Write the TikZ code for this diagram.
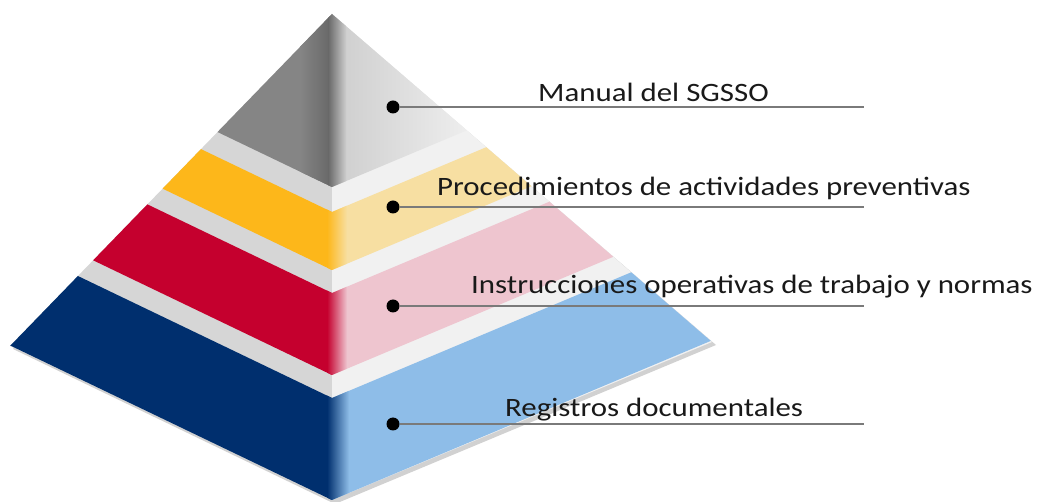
\documentclass[tikz,border=0pt]{standalone}
\usepackage{fontspec}
\setmainfont{Carlito}[FakeStretch=1.165]
\usepackage{xcolor}
\usepackage{tikz}
\usetikzlibrary{positioning}
\definecolor{capleft}{HTML}{858585}
\definecolor{capridge}{HTML}{686868}
\definecolor{capright}{HTML}{CDCDCD}
\definecolor{ledgeleft}{HTML}{D6D6D6}
\definecolor{ledgeright}{HTML}{F1F1F1}
\definecolor{yelldark}{HTML}{FDB71A}
\definecolor{yelllight}{HTML}{F7DFA2}
\definecolor{reddark}{HTML}{C5002E}
\definecolor{redlight}{HTML}{EEC5CF}
\definecolor{bluedark}{HTML}{002F6E}
\definecolor{bluelight}{HTML}{8EBDE8}
\definecolor{leadgray}{HTML}{7A7A7A}

\begin{document}
\begin{tikzpicture}[x=1pt,y=-1pt,font=\fontsize{26.5}{30}\selectfont]

\tikzset{
bullet/.style={circle,fill=black,inner sep=0pt,minimum size=13pt},
lbl/.style={anchor=base west,inner sep=0pt,text=black!90},
lead/.style={draw=leadgray,line width=1.8pt}
}

\useasboundingbox (0,0) rectangle (1037,502);

% soft shadow behind the pyramid
\fill[black!18] (335,17) -- (13,349) -- (335,504) -- (716,345) -- cycle;

\begin{scope}
\clip (332,14) -- (10,346) -- (332,500) -- (712,342) -- cycle;
% ledges between the layers
\fill[ledgeleft] (0,0) rectangle (332,502);
\fill[ledgeright] (332,0) rectangle (720,502);

% gray cap
\begin{scope}
\clip (0,-200) -- (0,{187-159.4}) -- (332,187) -- (720,{187-163}) -- (720,-200) -- cycle;
\fill[capleft] (0,0) rectangle (332,200);
\shade[left color=capleft,right color=capridge] (300,0) rectangle (330,200);
\shade[left color=capright,right color=ledgeright] (332,0) rectangle (480,200);
\shade[left color=capridge,right color=capright] (328,0) rectangle (346,200);
\end{scope}

% yellow layer
\begin{scope}
\clip (0,{212-159.4}) -- (332,212) -- (720,{212-163}) -- (720,{270-163}) -- (332,270) -- (0,{270-159.4}) -- cycle;
\fill[yelldark] (0,0) rectangle (332,502);
\fill[yelllight] (332,0) rectangle (720,502);
\shade[left color=yelldark,right color=yelllight] (327,0) rectangle (347,502);
\end{scope}

% red layer
\begin{scope}
\clip (0,{293-159.4}) -- (332,293) -- (720,{293-163}) -- (720,{375-163}) -- (332,375) -- (0,{375-159.4}) -- cycle;
\fill[reddark] (0,0) rectangle (332,502);
\fill[redlight] (332,0) rectangle (720,502);
\shade[left color=reddark,right color=redlight] (327,0) rectangle (347,502);
\end{scope}

% blue layer
\begin{scope}
\clip (0,{398-159.4}) -- (332,398) -- (720,{398-163}) -- (720,{500-163}) -- (332,500) -- (0,{500-159.4}) -- cycle;
\fill[bluedark] (0,0) rectangle (332,502);
\fill[bluelight] (332,0) rectangle (720,502);
\shade[left color=bluedark,right color=bluelight] (327,0) rectangle (349,502);
\end{scope}
\end{scope}

% labels
\node[bullet] (dotman) at (393,107) {};
\coordinate (endman) at (864,107);
\draw[lead] (dotman) -- (endman);
\node[lbl] (txtman) at (538,102) {Manual del SGSSO};

\node[bullet] (dotproc) at (393,207) {};
\coordinate (endproc) at (864,207);
\draw[lead] (dotproc) -- (endproc);
\node[lbl] (txtproc) at (437,196) {Procedimientos de actividades preventivas};

\node[bullet] (dotinst) at (393,306) {};
\coordinate (endinst) at (864,306);
\draw[lead] (dotinst) -- (endinst);
\node[lbl] (txtinst) at (471,294) {Instrucciones operativas de trabajo y normas};

\node[bullet] (dotreg) at (393,424) {};
\coordinate (endreg) at (864,424);
\draw[lead] (dotreg) -- (endreg);
\node[lbl] (txtreg) at (505,417) {Registros documentales};

\end{tikzpicture}
\end{document}
